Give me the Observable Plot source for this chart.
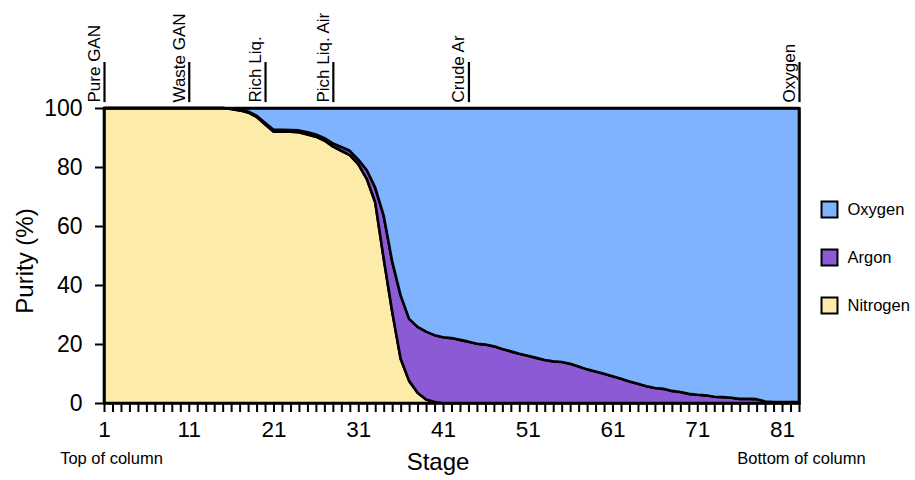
<!DOCTYPE html>
<html>
<head>
<meta charset="utf-8">
<script src="https://cdn.jsdelivr.net/npm/d3@7"></script>
<script src="https://cdn.jsdelivr.net/npm/@observablehq/plot@0.6"></script>
<style>
  html, body { margin: 0; padding: 0; background: #ffffff; }
  #chart svg { font-family: "Liberation Sans", Arial, Helvetica, sans-serif; }
</style>
</head>
<body>
<div id="chart"></div>
<script>
// ---------- data ----------
const stages = d3.range(1, 84); // stage numbers 1..83

const nitrogen = [
  100, 100, 100, 100, 100, 100, 100, 100, 100, 100,
  100, 100, 100, 100, 100, 99.7, 99.2, 98.5, 97.0, 94.5,
  92.0, 92.0, 92.0, 91.8, 91.0, 90.3, 89.0, 87.0, 85.5, 84.0,
  81.0, 76.0, 68.0, 49.0, 31.0, 15.0, 7.5, 3.5, 1.2, 0.3,
  0, 0, 0, 0, 0, 0, 0, 0, 0, 0,
  0, 0, 0, 0, 0, 0, 0, 0, 0, 0,
  0, 0, 0, 0, 0, 0, 0, 0, 0, 0,
  0, 0, 0, 0, 0, 0, 0, 0, 0, 0,
  0, 0, 0
];

const argon = [
  0, 0, 0, 0, 0, 0, 0, 0, 0, 0,
  0, 0, 0, 0, 0, 0.1, 0.2, 0.3, 0.4, 0.5,
  0.6, 0.6, 0.5, 0.6, 0.8, 0.7, 0.8, 1.0, 1.3, 1.5,
  1.5, 3.0, 5.0, 14.5, 17.0, 21.5, 21.0, 22.3, 23.0, 22.7,
  22.3, 22.0, 21.4, 20.8, 20.1, 19.8, 19.2, 18.3, 17.5, 16.7,
  16.0, 15.3, 14.6, 14.1, 13.9, 13.3, 12.4, 11.4, 10.7, 9.9,
  9.1, 8.2, 7.3, 6.5, 5.7, 5.1, 4.8, 4.1, 3.7, 3.1,
  2.8, 2.6, 2.1, 2.0, 1.8, 1.4, 1.4, 1.3, 0.5, 0.3,
  0.3, 0.3, 0.3
];

const oxygen = [
  0, 0, 0, 0, 0, 0, 0, 0, 0, 0,
  0, 0, 0, 0, 0, 0.2, 0.6, 1.2, 2.6, 5.0,
  7.4, 7.4, 7.5, 7.6, 8.2, 9.0, 10.2, 12.0, 13.2, 14.5,
  17.5, 21.0, 27.0, 36.5, 52.0, 63.5, 71.5, 74.2, 75.8, 77.0,
  77.7, 78.0, 78.6, 79.2, 79.9, 80.2, 80.8, 81.7, 82.5, 83.3,
  84.0, 84.7, 85.4, 85.9, 86.1, 86.7, 87.6, 88.6, 89.3, 90.1,
  90.9, 91.8, 92.7, 93.5, 94.3, 94.9, 95.2, 95.9, 96.3, 96.9,
  97.2, 97.4, 97.9, 98.0, 98.2, 98.6, 98.6, 98.7, 99.5, 99.7,
  99.7, 99.7, 99.7
];

const components = ["Nitrogen", "Argon", "Oxygen"];          // stacking order, bottom to top
const legendOrder = ["Oxygen", "Argon", "Nitrogen"];
const componentColors = ["#fdeba9", "#8d5ad5", "#80b3fd"];

const yTicks = [0, 20, 40, 60, 80, 100];
const xTickLabels = [1, 11, 21, 31, 41, 51, 61, 71, 81];

const markerNames = ["Pure GAN", "Waste GAN", "Rich Liq.", "Pich Liq. Air", "Crude Ar", "Oxygen"];
const markerStages = [1, 11, 20, 28, 44, 83];

// ---------- derived tables ----------
const series = {Nitrogen: nitrogen, Argon: argon, Oxygen: oxygen};
const rows = [];
components.forEach(c => stages.forEach((s, i) => rows.push({stage: s, comp: c, value: series[c][i]})));
const markers = markerNames.map((name, i) => ({name, stage: markerStages[i]}));

const FONT = "Liberation Sans, Arial, Helvetica, sans-serif";

const legendMarks = legendOrder.flatMap((c, i) => [
  Plot.dot([c], {frameAnchor: "right", dx: 30, dy: -46.5 + i * 48, symbol: "square", r: 9,
                 fill: d => d, stroke: "black", strokeWidth: 2}),
  Plot.text([c], {frameAnchor: "right", dx: 48, dy: -46.5 + i * 48, text: d => d,
                  textAnchor: "start", fontSize: 16.5, fill: "black"})
]);

const chart = Plot.plot({
  width: 915,
  height: 480,
  marginLeft: 104,
  marginRight: 116,
  marginTop: 108,
  marginBottom: 77,
  style: {fontFamily: FONT, background: "white", color: "black", overflow: "visible"},
  x: {domain: [1, 83]},
  y: {domain: [0, 100]},
  color: {domain: components, range: componentColors},
  marks: [
    Plot.areaY(rows, {x: "stage", y: "value", z: "comp", fill: "comp", order: components,
                      stroke: "black", strokeWidth: 2.6, strokeLinejoin: "round"}),
    Plot.frame({stroke: "black", strokeWidth: 2.5}),
    Plot.axisY({ticks: yTicks, tickSize: 9, tickPadding: 13, fontSize: 23, label: null,
                strokeWidth: 2, fill: "black"}),
    Plot.axisX({ticks: stages, tickSize: 9, tickPadding: 9, fontSize: 22.5, label: null,
                strokeWidth: 2, fill: "black",
                tickFormat: d => xTickLabels.includes(d) ? String(d) : ""}),
    // top markers
    Plot.ruleX(markers, {x: "stage", y1: 102, y2: 115.6, stroke: "black", strokeWidth: 2.2}),
    Plot.text(markers, {x: "stage", y: 100, dy: -6, dx: -10, rotate: -90, textAnchor: "start",
                        text: "name", fontSize: 17, fill: "black"}),
    // axis titles and notes
    Plot.text(["Purity (%)"], {frameAnchor: "left", dx: -79, dy: 5, rotate: -90, text: d => d,
                               textAnchor: "middle", fontSize: 24, fill: "black"}),
    Plot.text(["Stage"], {frameAnchor: "bottom", dx: -14, dy: 66, text: d => d,
                          textAnchor: "middle", fontSize: 24, fill: "black"}),
    Plot.text(["Top of column"], {frameAnchor: "bottom-left", dx: 7, dy: 60, text: d => d,
                                  textAnchor: "middle", fontSize: 16.5, fill: "black"}),
    Plot.text(["Bottom of column"], {frameAnchor: "bottom-right", dx: 2, dy: 60, text: d => d,
                                     textAnchor: "middle", fontSize: 16.5, fill: "black"}),
    ...legendMarks
  ]
});

document.getElementById("chart").appendChild(chart);
</script>
</body>
</html>
